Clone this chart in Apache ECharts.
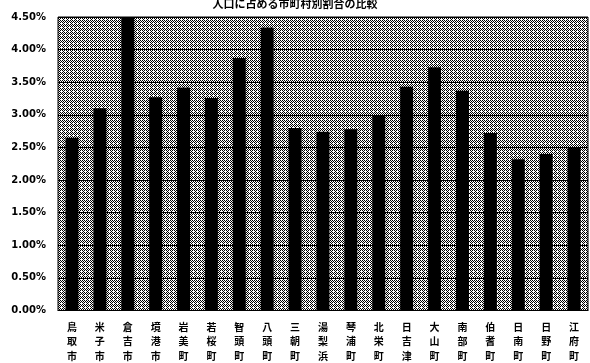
<!DOCTYPE html>
<html>
<head>
<meta charset="utf-8">
<script src="https://cdn.jsdelivr.net/npm/echarts@6/dist/echarts.min.js"></script>
<style>
  html, body { margin: 0; padding: 0; background: #fff; }
  #main { width: 590px; height: 363px; }
</style>
</head>
<body>
<div id="main"></div>
<script>
var titleText = '人口に占める市町村別割合の比較';
var categories = ['鳥取市', '米子市', '倉吉市', '境港市', '岩美町', '若桜町', '智頭町', '八頭町', '三朝町', '湯梨浜',
    '琴浦町', '北栄町', '日吉津', '大山町', '南部町', '伯耆町', '日南町', '日野町', '江府町'];
var values = [2.65, 3.10, 4.50, 3.27, 3.42, 3.26, 3.87, 4.34, 2.80, 2.74,
    2.78, 2.99, 3.43, 3.73, 3.37, 2.72, 2.32, 2.40, 2.49];
var yMin = 0;
var yMax = 4.5;
var yStep = 0.5;

// dithered grey like the scan
var pat = document.createElement('canvas');
pat.width = 4; pat.height = 4;
var ctx = pat.getContext('2d');
ctx.fillStyle = '#ffffff';
ctx.fillRect(0, 0, 4, 4);
ctx.fillStyle = '#000000';
[[0,0],[2,0],[1,1],[3,1],[0,2],[2,2],[3,3]].forEach(function (p) { ctx.fillRect(p[0], p[1], 1, 1); });

var myChart = echarts.init(document.getElementById('main'));
option = {
    animation: false,
    title: {
        text: titleText,
        left: 'center',
        top: -7,
        textStyle: { fontSize: 11, fontWeight: 'bold', color: '#000', fontFamily: 'Noto Sans CJK JP' }
    },
    grid: {
        left: 58, right: 2, top: 17, bottom: 52,
        show: true,
        backgroundColor: { image: pat, repeat: 'repeat' },
        borderColor: '#000',
        borderWidth: 1
    },
    xAxis: {
        type: 'category',
        data: categories,
        axisLine: { lineStyle: { color: '#000', width: 1 } },
        axisTick: { show: false },
        axisLabel: {
            interval: 0,
            margin: 9,
            color: '#000',
            fontSize: 10,
            fontWeight: 'bold',
            lineHeight: 14.5,
            fontFamily: 'Noto Sans CJK JP',
            formatter: function (v) { return v.split('').join('\n'); }
        }
    },
    yAxis: {
        type: 'value',
        min: yMin,
        max: yMax,
        interval: yStep,
        axisLine: { show: false },
        axisTick: { show: false },
        splitLine: { lineStyle: { color: '#000', width: 1 } },
        axisLabel: {
            margin: 12,
            color: '#000',
            fontSize: 10,
            fontWeight: 'bold',
            fontFamily: 'DejaVu Sans',
            formatter: function (v) { return v.toFixed(2) + '%'; }
        }
    },
    series: [{
        type: 'bar',
        data: values,
        barWidth: 13,
        itemStyle: { color: '#000' }
    }]
};
myChart.setOption(option);
</script>
</body>
</html>
